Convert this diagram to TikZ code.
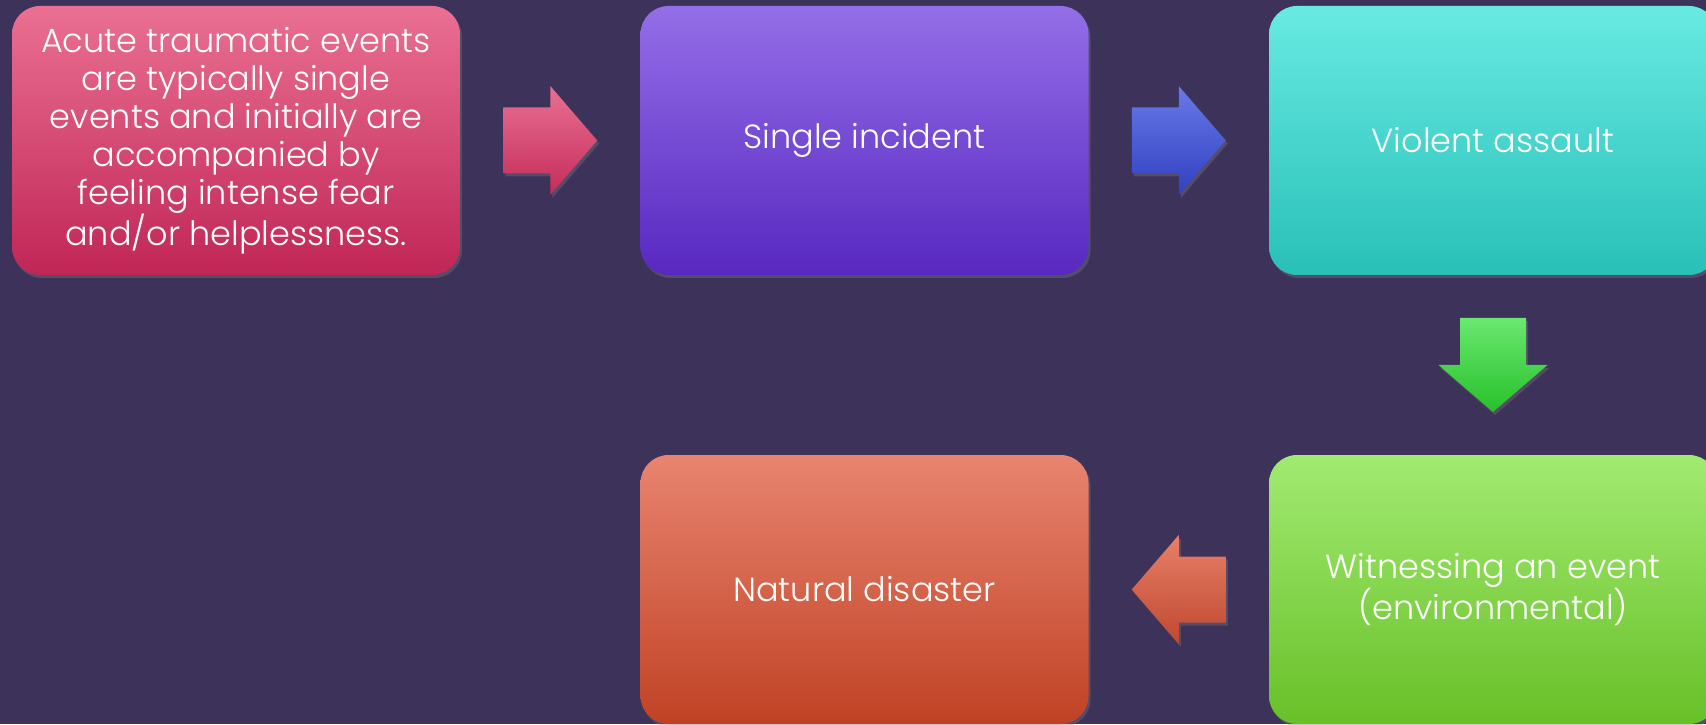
\documentclass[tikz,border=0pt]{standalone}
\usepackage{fontspec}
\setmainfont{Poppins}[UprightFont=* Light]
\usepackage{tikz}
\usetikzlibrary{shadows, calc}

\definecolor{bgcol}{RGB}{60,50,90}

\tikzset{
  card/.style={rounded corners=28pt, minimum width=448pt, minimum height=269pt,
    text=white, align=center, inner sep=0pt, font=\fontsize{33.5}{38}\selectfont,
    drop shadow={shadow xshift=2pt, shadow yshift=-3pt, opacity=0.35}},
  blockarrow/.style={drop shadow={shadow xshift=2pt, shadow yshift=-3pt, opacity=0.35}}
}

\begin{document}
\begin{tikzpicture}[x=1pt, y=1pt]
        % Background
        \fill[bgcol] (0,0) rectangle (1706,724);
        \useasboundingbox (0,0) rectangle (1706,724);

        % The five boxes
        \node[card, top color={rgb,255:red,234;green,112;blue,146}, bottom color={rgb,255:red,192;green,38;blue,86}]
            (acute) at (236,583.5) {Acute traumatic events\\are typically single\\events and initially are\\accompanied by\\feeling intense fear\\and/or helplessness.};
        \node[card, top color={rgb,255:red,148;green,110;blue,232}, bottom color={rgb,255:red,88;green,40;blue,192}]
            (single) at (864.5,583.5) {Single incident};
        \node[card, top color={rgb,255:red,104;green,234;blue,226}, bottom color={rgb,255:red,40;green,192;blue,184}]
            (violent) at (1493,583.5) {Violent assault};
        \node[card, top color={rgb,255:red,162;green,234;blue,114}, bottom color={rgb,255:red,104;green,192;blue,40}]
            (witness) at (1493,134.5) {Witnessing an event\\(environmental)};
        \node[card, top color={rgb,255:red,232;green,132;blue,112}, bottom color={rgb,255:red,192;green,66;blue,36}]
            (natural) at (864.5,134.5) {Natural disaster};

        % Arrows between the boxes
        \coordinate (m1) at ($(acute.east)!0.5!(single.west)$);
        \coordinate (m2) at ($(single.east)!0.5!(violent.west)$);
        \coordinate (m3) at ($(violent.south)!0.5!(witness.north)$);
        \coordinate (m4) at ($(witness.west)!0.5!(natural.east)$);
        \path[blockarrow, shift={(m1)}, top color={rgb,255:red,234;green,112;blue,146}, bottom color={rgb,255:red,196;green,44;blue,90}]
            (-47,-33) -- (0,-33) -- (0,-54.5) -- (47,0) -- (0,54.5) -- (0,33) -- (-47,33) -- cycle;
        \path[blockarrow, shift={(m2)}, top color={rgb,255:red,104;green,122;blue,232}, bottom color={rgb,255:red,48;green,64;blue,192}]
            (-47,-33) -- (0,-33) -- (0,-54.5) -- (47,0) -- (0,54.5) -- (0,33) -- (-47,33) -- cycle;
        \path[blockarrow, shift={(m3)}, top color={rgb,255:red,106;green,232;blue,112}, bottom color={rgb,255:red,40;green,192;blue,42}]
            (-33,47) -- (-33,0) -- (-54.5,0) -- (0,-47) -- (54.5,0) -- (33,0) -- (33,47) -- cycle;
        \path[blockarrow, shift={(m4)}, top color={rgb,255:red,232;green,128;blue,104}, bottom color={rgb,255:red,192;green,72;blue,48}]
            (47,-33) -- (0,-33) -- (0,-54.5) -- (-47,0) -- (0,54.5) -- (0,33) -- (47,33) -- cycle;
\end{tikzpicture}
\end{document}
